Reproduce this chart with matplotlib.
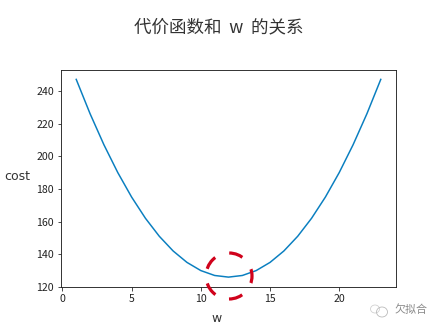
#!/usr/bin/env python3
import matplotlib
matplotlib.use("Agg")
import matplotlib.pyplot as plt
from matplotlib.patches import Ellipse

plt.rcParams["font.family"] = ["Noto Sans CJK SC", "DejaVu Sans"]

# ---- data -------------------------------------------------------------------
w = list(range(1, 24))
cost = [247, 226, 207, 190, 175, 162, 151, 142, 135, 130, 127, 126,
        127, 130, 135, 142, 151, 162, 175, 190, 207, 226, 247]
x_ticks = [0, 5, 10, 15, 20]
y_ticks = [120, 140, 160, 180, 200, 220, 240]

BLUE = "#0a7fc0"
RED = "#d0021b"
INK = "#333333"

fig = plt.figure(figsize=(440 / 72, 330 / 72), dpi=72)
ax = fig.add_axes([61 / 440, 1 - 287 / 330, 335 / 440, 217.5 / 330])
ax.plot(w, cost, color=BLUE, lw=1.5)
ax.set_xticks(x_ticks)
ax.set_yticks(y_ticks)
ax.tick_params(labelsize=10.5, length=3.5, width=0.8, colors="#222222")
for s in ax.spines.values():
    s.set_linewidth(0.9)
    s.set_color("#222222")

fig.text(219 / 440, 1 - 27 / 330, "代价函数和  w  的关系", ha="center", va="center",
         fontsize=17.5, color=INK)
fig.text(217 / 440, 1 - 318 / 330, "w", ha="center", va="center",
         fontsize=12.5, color=INK, family="DejaVu Sans")
fig.text(17 / 440, 1 - 176 / 330, "cost", ha="center", va="center",
         fontsize=12.5, color=INK, family="DejaVu Sans")

# red dashed circle around the minimum, five long dashes
fig.add_artist(Ellipse((229 / 440, 1 - 276 / 330), 46 / 440, 46 / 330,
                       transform=fig.transFigure, fill=False, ec=RED, lw=3.2,
                       ls=(0, (4.4, 4.66))))

# faint watermark
fig.text(411 / 440, 1 - 310 / 330, "欠拟合", ha="center", va="center",
         fontsize=11, color="#8a8a8a")
fig.add_artist(Ellipse((375 / 440, 1 - 309 / 330), 9 / 440, 8 / 330,
                       transform=fig.transFigure, fill=False, ec="#d0d0d0", lw=0.8))
fig.add_artist(Ellipse((382 / 440, 1 - 312 / 330), 11 / 440, 10 / 330,
                       transform=fig.transFigure, fill=False, ec="#b8b8b8", lw=0.8))

fig.savefig("out.png", dpi=72, facecolor="white")
